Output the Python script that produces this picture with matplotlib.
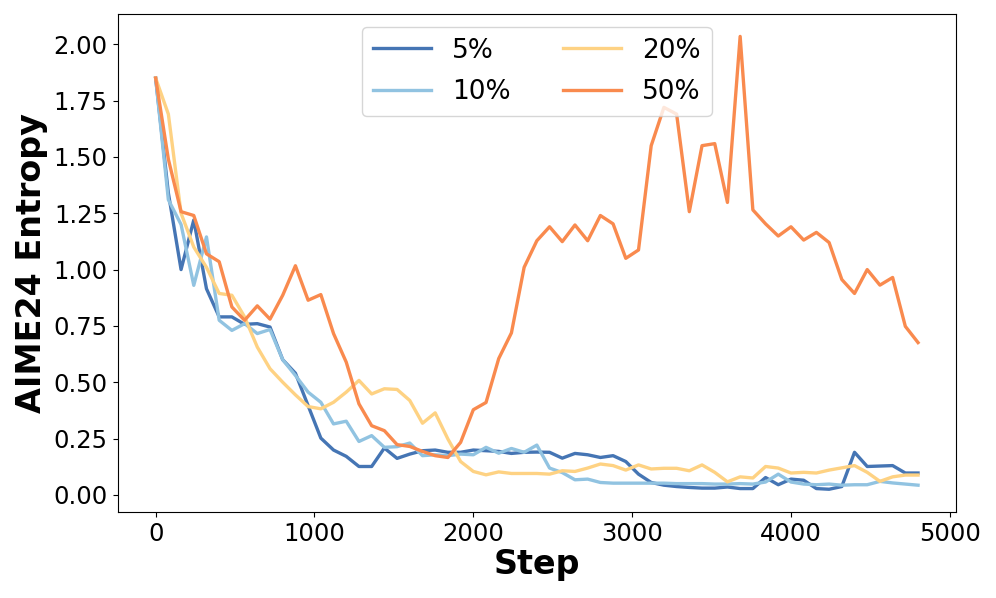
import matplotlib
matplotlib.use("Agg")
import matplotlib.pyplot as plt
import numpy as np

steps = np.arange(0, 4801, 80)

entropy_5 = [
    1.85, 1.34, 1.00, 1.22, 0.915, 0.79, 0.79, 0.757, 0.76, 0.745,
    0.60, 0.54, 0.396, 0.252, 0.199, 0.171, 0.126, 0.126, 0.208, 0.162,
    0.181, 0.196, 0.199, 0.189, 0.189, 0.199, 0.196, 0.193, 0.184, 0.189,
    0.19, 0.189, 0.163, 0.184, 0.178, 0.166, 0.174, 0.148, 0.092, 0.055,
    0.043, 0.037, 0.033, 0.03, 0.03, 0.035, 0.028, 0.028, 0.077, 0.045,
    0.07, 0.065, 0.028, 0.025, 0.037, 0.189, 0.126, 0.128, 0.13, 0.097,
    0.097,
]
entropy_10 = [
    1.85, 1.31, 1.20, 0.93, 1.145, 0.775, 0.73, 0.76, 0.716, 0.734,
    0.60, 0.53, 0.456, 0.411, 0.315, 0.327, 0.237, 0.263, 0.211, 0.214,
    0.23, 0.174, 0.178, 0.174, 0.181, 0.178, 0.211, 0.185, 0.206, 0.189,
    0.221, 0.119, 0.099, 0.067, 0.07, 0.055, 0.052, 0.052, 0.052, 0.052,
    0.052, 0.05, 0.05, 0.05, 0.048, 0.048, 0.05, 0.048, 0.057, 0.092,
    0.057, 0.048, 0.045, 0.048, 0.043, 0.045, 0.045, 0.06, 0.053, 0.048,
    0.043,
]
entropy_20 = [
    1.85, 1.69, 1.25, 1.10, 1.01, 0.894, 0.886, 0.79, 0.656, 0.56,
    0.50, 0.444, 0.392, 0.382, 0.411, 0.456, 0.508, 0.448, 0.471, 0.468,
    0.419, 0.318, 0.364, 0.248, 0.148, 0.104, 0.089, 0.102, 0.095, 0.095,
    0.095, 0.092, 0.107, 0.104, 0.119, 0.137, 0.13, 0.11, 0.133, 0.115,
    0.118, 0.118, 0.107, 0.133, 0.10, 0.058, 0.08, 0.075, 0.126, 0.119,
    0.097, 0.10, 0.097, 0.11, 0.12, 0.13, 0.10, 0.06, 0.08, 0.088,
    0.088,
]
entropy_50 = [
    1.85, 1.49, 1.257, 1.24, 1.07, 1.035, 0.834, 0.775, 0.839, 0.78,
    0.886, 1.017, 0.864, 0.889, 0.716, 0.589, 0.404, 0.307, 0.285, 0.223,
    0.215, 0.193, 0.174, 0.166, 0.233, 0.378, 0.41, 0.605, 0.719, 1.01,
    1.128, 1.19, 1.124, 1.198, 1.128, 1.24, 1.203, 1.05, 1.087, 1.55,
    1.72, 1.69, 1.257, 1.55, 1.559, 1.298, 2.035, 1.265, 1.203, 1.149,
    1.19, 1.131, 1.165, 1.12, 0.956, 0.894, 1.0, 0.931, 0.965, 0.748,
    0.676,
]

labels = ["5%", "10%", "20%", "50%"]
colors = ["#4575b4", "#91c3e1", "#fed283", "#f98a4e"]

fig, ax = plt.subplots(figsize=(9.96, 5.98), dpi=100)
fig.subplots_adjust(left=0.118, right=0.96, top=0.977, bottom=0.144)

for values, label, color in zip([entropy_5, entropy_10, entropy_20, entropy_50], labels, colors):
    ax.plot(steps, values, label=label, color=color, linewidth=2.4)

ax.set_xlabel("Step", fontsize=24, fontweight="bold", labelpad=2)
ax.set_ylabel("AIME24 Entropy", fontsize=24, fontweight="bold", labelpad=4)
ax.tick_params(axis="both", labelsize=17.5)
ax.set_xticks([0, 1000, 2000, 3000, 4000, 5000])
ax.set_yticks([0.0, 0.25, 0.5, 0.75, 1.0, 1.25, 1.5, 1.75, 2.0])
ax.yaxis.set_major_formatter(matplotlib.ticker.FormatStrFormatter("%.2f"))

ax.legend(loc="upper center", ncol=2, fontsize=19, handlelength=2.2, labelspacing=0.6)

plt.savefig("out.png", dpi=100)
plt.close(fig)
